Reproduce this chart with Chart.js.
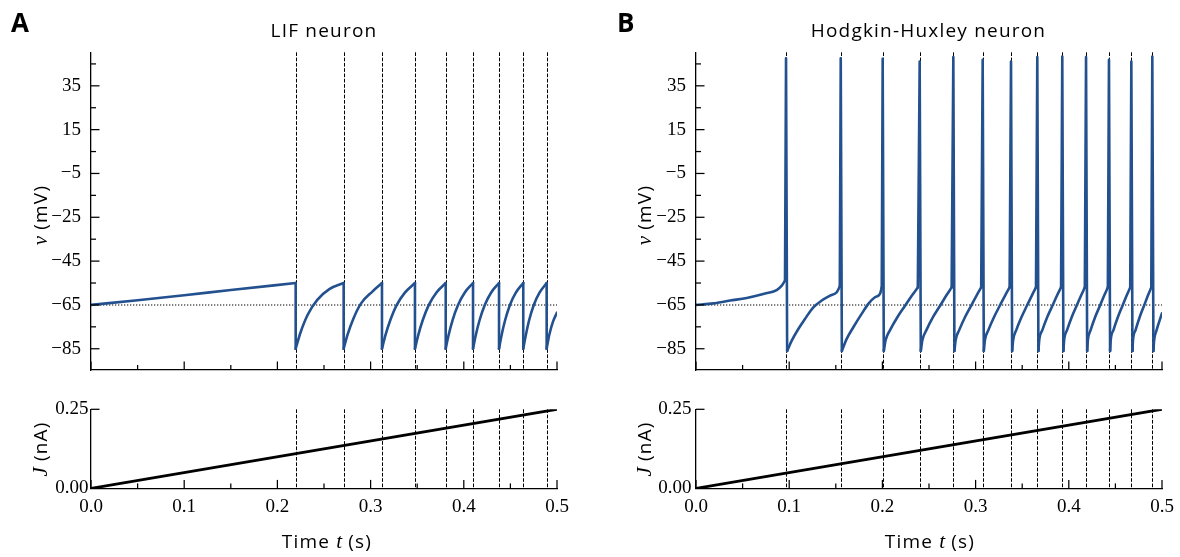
<!DOCTYPE html>
<html>
<head>
<meta charset="utf-8">
<script src="https://cdn.jsdelivr.net/npm/chart.js@4"></script>
<style>
  html, body { margin: 0; padding: 0; background: #fff; }
  #fig { position: relative; width: 1180px; height: 557px; overflow: hidden; }
  #fig canvas { position: absolute; }
  #txt { position: absolute; left: 0; top: 0; pointer-events: none; }
  .sans { font-family: "Open Sans", sans-serif; font-size: 19px; letter-spacing: 1.2px; fill: #000; }
  .var { font-family: "Liberation Serif", serif; font-style: italic; font-size: 21px; letter-spacing: 0; }
  .lab { font-family: "Open Sans", sans-serif; font-weight: 700; font-size: 26px; fill: #000; }
</style>
</head>
<body>
<div id="fig">
  <canvas id="aTop" width="580" height="380" style="left:0px;top:0px"></canvas>
  <canvas id="aBot" width="580" height="177" style="left:0px;top:380px"></canvas>
  <canvas id="bTop" width="580" height="380" style="left:605px;top:0px"></canvas>
  <canvas id="bBot" width="580" height="177" style="left:605px;top:380px"></canvas>
  <svg id="txt" width="1180" height="557">
    <text class="lab" x="11" y="32">A</text>
    <text class="lab" x="617" y="32">B</text>
    <text class="sans" x="324" y="37" text-anchor="middle">LIF neuron</text>
    <text class="sans" x="928.5" y="37" text-anchor="middle">Hodgkin-Huxley neuron</text>
    <text class="sans" x="327" y="548" text-anchor="middle">Time <tspan class="var">t</tspan> (s)</text>
    <text class="sans" x="930" y="548" text-anchor="middle">Time <tspan class="var">t</tspan> (s)</text>
    <text class="sans" transform="translate(47,215) rotate(-90)" text-anchor="middle"><tspan class="var">v</tspan> (mV)</text>
    <text class="sans" transform="translate(651,215) rotate(-90)" text-anchor="middle"><tspan class="var">v</tspan> (mV)</text>
    <text class="sans" transform="translate(47,449) rotate(-90)" text-anchor="middle"><tspan class="var">J</tspan> (nA)</text>
    <text class="sans" transform="translate(651,449) rotate(-90)" text-anchor="middle"><tspan class="var">J</tspan> (nA)</text>
  </svg>
</div>
<script>
// spike times (s)
const lifSpikes = [0.2196, 0.2711, 0.3122, 0.3476, 0.3806, 0.4099, 0.4378, 0.4638, 0.4889];
const hhSpikes = [0.0966, 0.1553, 0.2003, 0.2400, 0.2761, 0.3076, 0.3380, 0.3662, 0.3930, 0.4185, 0.4431, 0.4671, 0.4896];
const hhPeaks = [47.6, 47.6, 47.3, 46.1, 48.1, 46.9, 46.1, 48.1, 48.4, 48.1, 46.9, 46.1, 48.4];

// LIF membrane voltage, subthreshold parts (mV)
const lifT = [0, 0.05, 0.1, 0.15, 0.2196,
  0.2196, 0.2248, 0.2325, 0.2428, 0.2557, 0.2711,
  0.2711, 0.2752, 0.2814, 0.2896, 0.3019, 0.3122,
  0.3122, 0.3157, 0.3211, 0.3281, 0.3370, 0.3476,
  0.3476, 0.3509, 0.3559, 0.3625, 0.3707, 0.3806,
  0.3806, 0.3835, 0.3879, 0.3938, 0.4011, 0.4099,
  0.4099, 0.4127, 0.4169, 0.4225, 0.4294, 0.4378,
  0.4378, 0.4404, 0.4443, 0.4495, 0.4560, 0.4638,
  0.4638, 0.4664, 0.4701, 0.4751, 0.4814, 0.4889,
  0.4889, 0.4918, 0.4958, 0.5];
const lifV = [-65, -62.9, -60.6, -58.2, -55,
  -85, -77.6, -69.5, -62.7, -57.8, -55,
  -85, -78.7, -71.4, -64.4, -58.9, -55,
  -85, -79.1, -72.0, -65.0, -59.3, -55,
  -85, -79.1, -72.0, -65.0, -59.3, -55,
  -85, -79.1, -72.0, -65.0, -59.3, -55,
  -85, -79.1, -72.0, -65.0, -59.3, -55,
  -85, -79.1, -72.0, -65.0, -59.3, -55,
  -85, -79.1, -72.0, -65.0, -59.3, -55,
  -85, -78.5, -72.5, -68.5];

// Hodgkin-Huxley membrane voltage between spikes (mV)
const hhT = [0, 0.0186, 0.0365, 0.0544, 0.0722, 0.0866, 0.0920, 0.0955,
  0.0978, 0.1027, 0.1098, 0.1169, 0.1259, 0.1349, 0.1438, 0.1510, 0.1543,
  0.1565, 0.1617, 0.1688, 0.1777, 0.1849, 0.1920, 0.1974, 0.1993,
  0.2015, 0.2035, 0.2082, 0.2162, 0.2241, 0.2321, 0.2380,
  0.2412, 0.2429, 0.2472, 0.2544, 0.2617, 0.2689, 0.2743,
  0.2773, 0.2786, 0.2824, 0.2887, 0.2950, 0.3013, 0.3060,
  0.3088, 0.3100, 0.3137, 0.3198, 0.3258, 0.3319, 0.3365,
  0.3392, 0.3403, 0.3436, 0.3493, 0.3549, 0.3606, 0.3648,
  0.3674, 0.3683, 0.3716, 0.3769, 0.3823, 0.3876, 0.3917,
  0.3942, 0.3950, 0.3981, 0.4032, 0.4083, 0.4134, 0.4172,
  0.4197, 0.4205, 0.4234, 0.4283, 0.4333, 0.4382, 0.4419,
  0.4443, 0.4450, 0.4479, 0.4527, 0.4575, 0.4623, 0.4659,
  0.4683, 0.4689, 0.4716, 0.4761, 0.4806, 0.4851, 0.4885,
  0.4908, 0.4916, 0.4942, 0.5];
const hhV = [-65, -64.3, -63.0, -61.8, -60.0, -58.2, -56.2, -53.9,
  -86, -81.3, -76.0, -71.4, -66.1, -63.0, -60.8, -59.2, -56.5,
  -86, -80.5, -75.2, -69.1, -64.5, -61.5, -60.0, -57.0,
  -86, -81, -76.5, -70.5, -65.5, -60.5, -57,
  -86, -81, -76.5, -70.5, -65.5, -60.5, -57,
  -86, -81, -76.5, -70.5, -65.5, -60.5, -57,
  -86, -81, -76.5, -70.5, -65.5, -60.5, -57,
  -86, -81, -76.5, -70.5, -65.5, -60.5, -57,
  -86, -81, -76.5, -70.5, -65.5, -60.5, -57,
  -86, -81, -76.5, -70.5, -65.5, -60.5, -57,
  -86, -81, -76.5, -70.5, -65.5, -60.5, -57,
  -86, -81, -76.5, -70.5, -65.5, -60.5, -57,
  -86, -81, -76.5, -70.5, -65.5, -60.5, -57,
  -86, -81, -76.5, -68.8];

const restV = -65;
// input current ramp (nA)
const jT = [0, 0.5];
const jI = [0, 0.25];

const xMajor = [0, 0.1, 0.2, 0.3, 0.4, 0.5];
const xMinor = [0.05, 0.15, 0.25, 0.35, 0.45];
const vMajor = [-85, -65, -45, -25, -5, 15, 35];
const vMinor = [-75, -55, -35, -15, 5, 25, 45];
const jMajor = [0, 0.25];
const vRange = [-94.7, 50.3];
const jRange = [0, 0.25];

const BLUE = "#23508e";
Chart.defaults.font.family = "'Liberation Serif', serif";
Chart.defaults.color = "#000";

// split trace at each reset: rising parts get a smooth curve, jumps are straight
function traceSets(T, V, spikes, peaks) {
    const rise = [], jumps = [];
    let k = 0;
    for (let i = 0; i < T.length; i++) {
        if (i > 0 && V[i] < V[i - 1]) {
            const s = spikes[k];
            rise.push({x: s, y: null});
            jumps.push({x: T[i - 1], y: V[i - 1]});
            if (peaks) jumps.push({x: s, y: peaks[k]});
            jumps.push({x: T[i], y: V[i]});
            jumps.push({x: s, y: null});
            k++;
        }
        rise.push({x: T[i], y: V[i]});
    }
    return [
        {data: rise, borderColor: BLUE, borderWidth: 2.6, cubicInterpolationMode: "monotone", borderCapStyle: "round"},
        {data: jumps, borderColor: BLUE, borderWidth: 2.6, tension: 0, borderCapStyle: "round", borderJoinStyle: "round"},
        {data: [{x: 0, y: restV}, {x: 0.5, y: restV}], borderColor: "#000", borderWidth: 1.1, borderDash: [1.3, 1.7]}
    ];
}

// dashed spike markers and inward ticks
function marks(spikes, yMaj, yMin) {
    return {
        id: "marks",
        beforeDatasetsDraw(chart) {
            const {ctx, chartArea: a, scales: {x}} = chart;
            ctx.save();
            ctx.strokeStyle = "#000";
            ctx.lineWidth = 1;
            ctx.setLineDash([3.7, 1.6]);
            spikes.forEach(s => {
                const p = Math.round(x.getPixelForValue(s)) + 0.5;
                ctx.beginPath(); ctx.moveTo(p, a.top); ctx.lineTo(p, a.bottom); ctx.stroke();
            });
            ctx.restore();
        },
        afterDraw(chart) {
            const {ctx, chartArea: a, scales: {x, y}} = chart;
            ctx.save();
            ctx.strokeStyle = "#000";
            ctx.lineWidth = 1.25;
            const seg = (x1, y1, x2, y2) => { ctx.beginPath(); ctx.moveTo(x1, y1); ctx.lineTo(x2, y2); ctx.stroke(); };
            xMajor.forEach(v => { const p = x.getPixelForValue(v); seg(p, a.bottom, p, a.bottom - 8.5); });
            xMinor.forEach(v => { const p = x.getPixelForValue(v); seg(p, a.bottom, p, a.bottom - 5); });
            yMaj.forEach(v => { const p = y.getPixelForValue(v); seg(a.left, p, a.left + 8.5, p); });
            yMin.forEach(v => { const p = y.getPixelForValue(v); if (p > a.top) seg(a.left, p, a.left + 5, p); });
            ctx.restore();
        }
    };
}

function panel(id, sets, top, xAxisH, yRange, yTicks, yFmt, yPad, showX, plugin) {
    return new Chart(document.getElementById(id), {
        type: "line",
        data: {datasets: sets},
        options: {
            responsive: false,
            animation: false,
            events: [],
            layout: {padding: {top: top, right: 23, left: 0, bottom: 0}},
            elements: {point: {radius: 0}},
            plugins: {legend: {display: false}, tooltip: {enabled: false}},
            scales: {
                x: {
                    type: "linear", min: 0, max: 0.5,
                    grid: {display: false, drawTicks: false},
                    border: {color: "#000", width: 1.3},
                    ticks: {display: showX, autoSkip: false, maxRotation: 0, padding: 7,
                        font: {size: 19}, callback: v => v.toFixed(1)},
                    afterBuildTicks: s => { s.ticks = xMajor.map(v => ({value: v})); },
                    afterFit: s => { s.height = xAxisH; s.paddingLeft = 0; s.paddingRight = 0; }
                },
                y: {
                    type: "linear", min: yRange[0], max: yRange[1],
                    grid: {display: false, drawTicks: false},
                    border: {color: "#000", width: 1.3},
                    ticks: {autoSkip: false, padding: yPad, font: {size: 19}, callback: yFmt},
                    afterBuildTicks: s => { s.ticks = yTicks.map(v => ({value: v})); },
                    afterFit: s => { s.width = 91; s.paddingTop = 0; s.paddingBottom = 0; }
                }
            }
        },
        plugins: [plugin]
    });
}

const vFmt = v => (v < 0 ? "\u2212" + Math.abs(v) : String(v));
const jFmt = v => v.toFixed(2);
const jSet = () => [{data: jT.map((t, i) => ({x: t, y: jI[i]})), borderColor: "#000", borderWidth: 2.8}];

panel("aTop", traceSets(lifT, lifV, lifSpikes, null), 52.3, 10, vRange, vMajor, vFmt, 10, false, marks(lifSpikes, vMajor, vMinor));
panel("bTop", traceSets(hhT, hhV, hhSpikes, hhPeaks), 52.3, 10, vRange, vMajor, vFmt, 10, false, marks(hhSpikes, vMajor, vMinor));
panel("aBot", jSet(), 29.3, 68.6, jRange, jMajor, jFmt, 2.5, true, marks(lifSpikes, jMajor, []));
panel("bBot", jSet(), 29.3, 68.6, jRange, jMajor, jFmt, 4.5, true, marks(hhSpikes, jMajor, []));
</script>
</body>
</html>
